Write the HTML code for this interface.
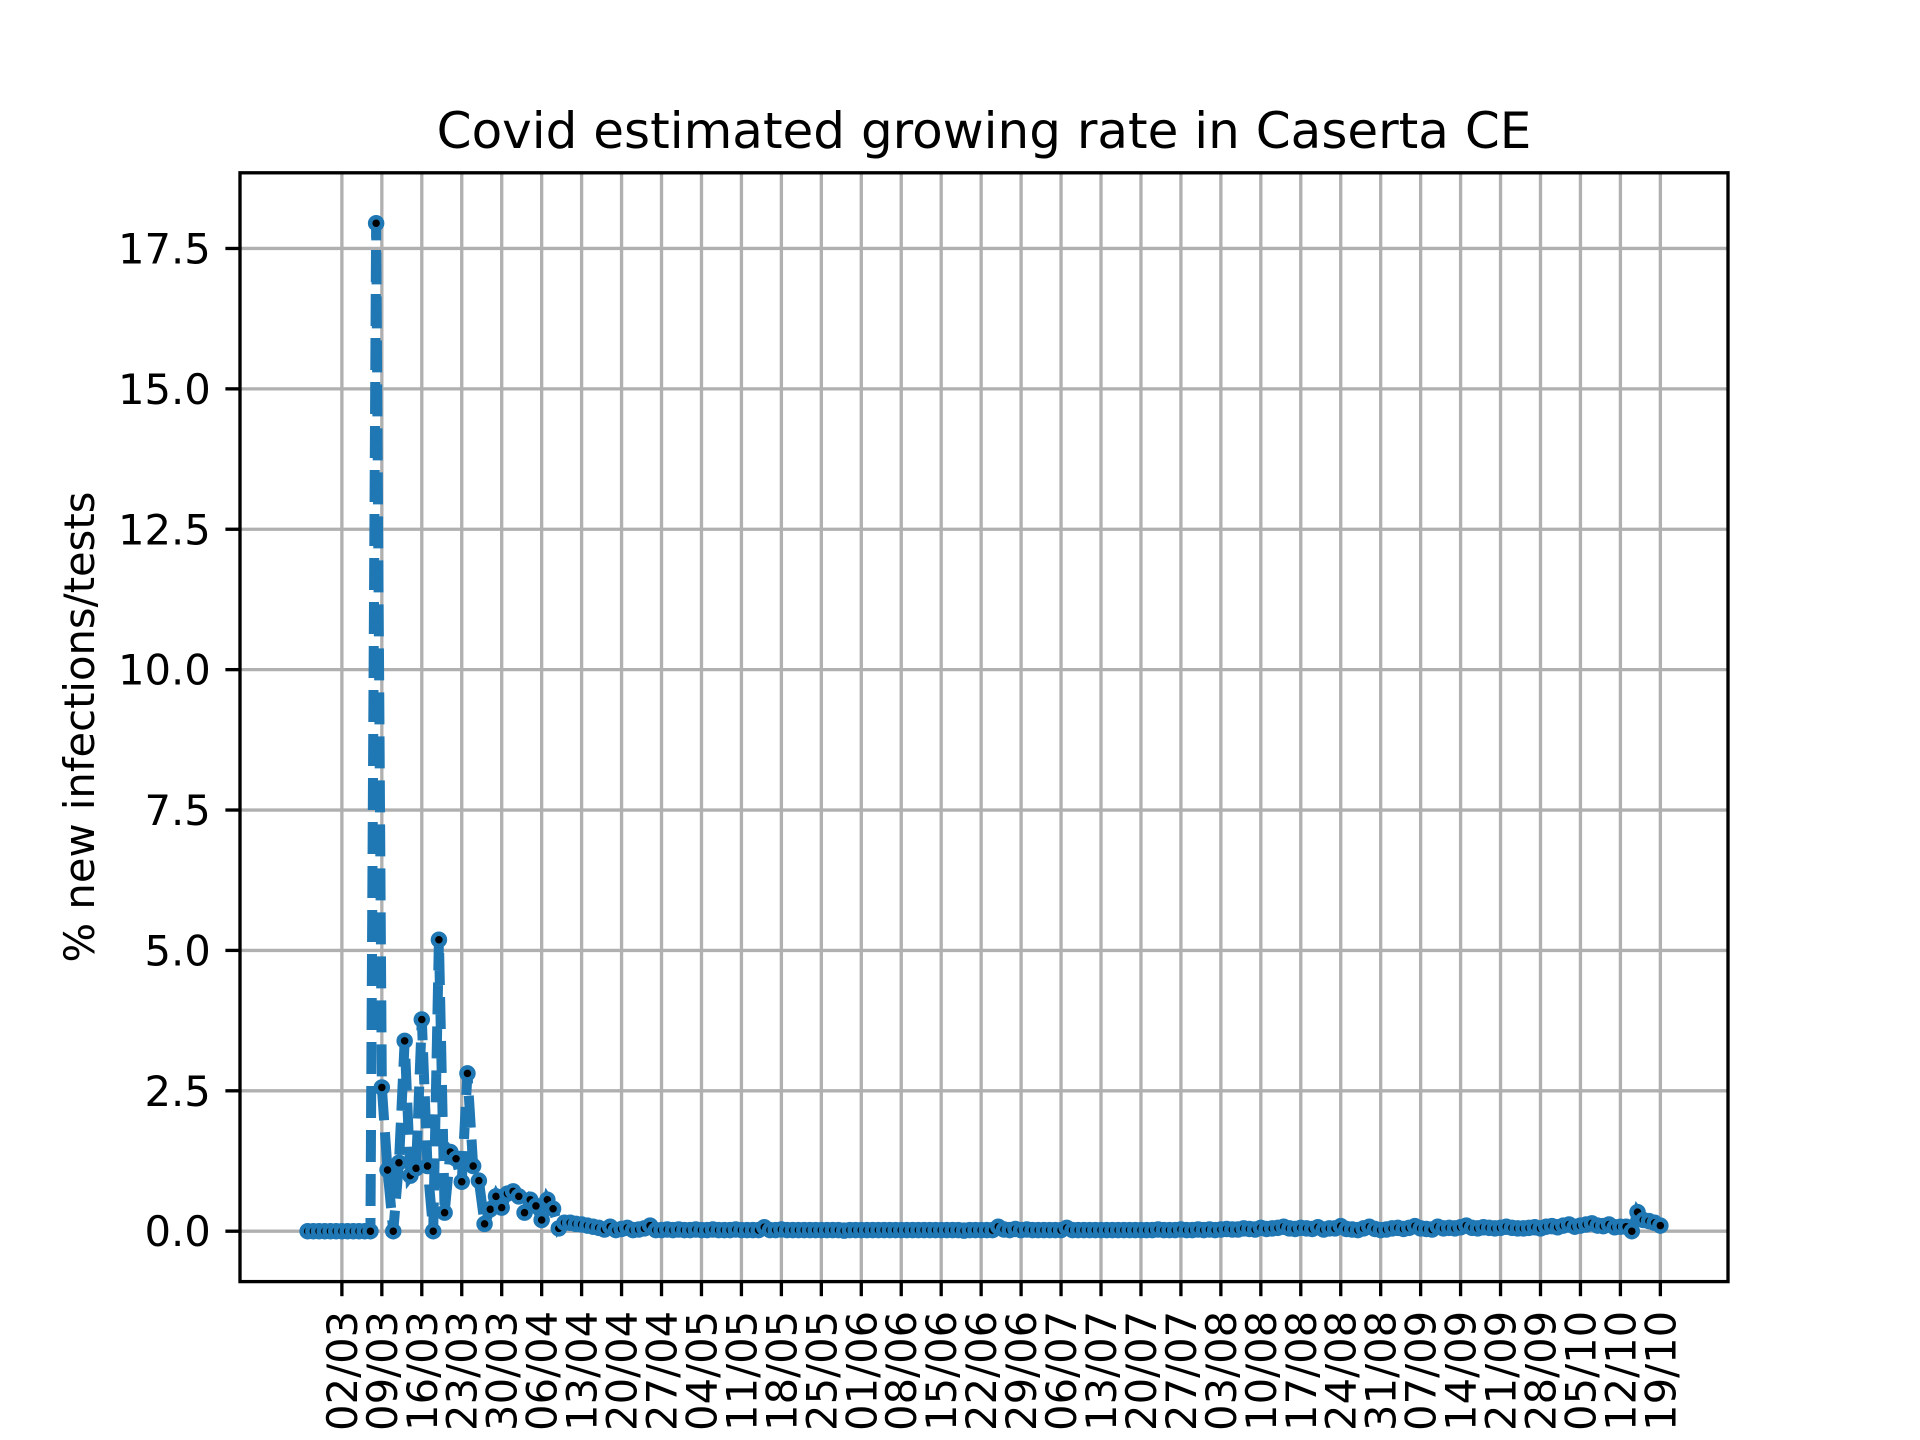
<!DOCTYPE html>
<html><head><meta charset="utf-8">
<style>
html,body{margin:0;padding:0;background:#fff;}
svg{display:block;font-family:"DejaVu Sans","Liberation Sans",sans-serif;}
</style></head>
<body>
<svg id="chart" width="1920" height="1440" viewBox="0 0 1920 1440" xmlns="http://www.w3.org/2000/svg">
<rect width="1920" height="1440" fill="#fff"/>
<text x="984" y="148" font-size="50" text-anchor="middle">Covid estimated growing rate in Caserta CE</text>
<text transform="translate(94,727) rotate(-90)" font-size="41.7" text-anchor="middle">% new infections/tests</text>
<g id="grid"></g>
<g id="ticks"></g>
<g id="series"></g>
<rect x="240" y="172.8" width="1488" height="1108.8" fill="none" stroke="#000" stroke-width="3.33"/>
</svg>
<script>
const values = [
0,0,0,0,0,0,0,0,0,0,
0,0,17.95,2.56,1.09,0,1.22,3.39,0.99,1.12,
3.77,1.16,0,5.19,0.33,1.41,1.29,0.88,2.81,1.16,
0.9,0.13,0.39,0.62,0.42,0.67,0.71,0.62,0.33,0.56,
0.45,0.2,0.56,0.4,0.05,0.15,0.15,0.13,0.12,0.1,
0.08,0.06,0.03,0.08,0.02,0.04,0.06,0.02,0.03,0.05,
0.1,0.02,0.02,0.03,0.02,0.03,0.02,0.02,0.03,0.02,
0.02,0.03,0.02,0.02,0.02,0.03,0.02,0.02,0.02,0.02,
0.07,0.02,0.02,0.03,0.02,0.02,0.02,0.02,0.02,0.02,
0.02,0.02,0.02,0.02,0.01,0.02,0.02,0.02,0.02,0.02,
0.02,0.02,0.02,0.02,0.02,0.02,0.02,0.02,0.02,0.02,
0.02,0.02,0.02,0.02,0.02,0.01,0.02,0.02,0.02,0.02,
0.02,0.08,0.03,0.02,0.04,0.02,0.03,0.02,0.02,0.02,
0.02,0.02,0.02,0.06,0.02,0.02,0.02,0.02,0.02,0.02,
0.02,0.02,0.02,0.02,0.02,0.02,0.02,0.02,0.02,0.03,
0.02,0.02,0.02,0.03,0.02,0.02,0.03,0.02,0.03,0.02,
0.03,0.04,0.03,0.03,0.05,0.04,0.03,0.06,0.04,0.05,
0.06,0.08,0.05,0.04,0.06,0.05,0.04,0.07,0.03,0.05,
0.05,0.09,0.04,0.03,0.02,0.05,0.08,0.04,0.02,0.03,
0.05,0.06,0.04,0.06,0.09,0.05,0.04,0.03,0.08,0.05,
0.06,0.05,0.07,0.1,0.06,0.05,0.07,0.06,0.05,0.06,
0.08,0.06,0.05,0.05,0.06,0.07,0.05,0.08,0.09,0.07,
0.1,0.12,0.08,0.1,0.12,0.14,0.1,0.09,0.12,0.07,
0.08,0.08,0,0.34,0.2,0.18,0.15,0.1
];
const tickLabels = ["02/03","09/03","16/03","23/03","30/03","06/04","13/04","20/04","27/04","04/05","11/05","18/05","25/05","01/06","08/06","15/06","22/06","29/06","06/07","13/07","20/07","27/07","03/08","10/08","17/08","24/08","31/08","07/09","14/09","21/09","28/09","05/10","12/10","19/10"];
const tickDays = [6,13,20,27,34,41,48,55,62,69,76,83,90,97,104,111,118,125,132,139,146,153,160,167,174,181,188,195,202,209,216,223,230,237];
const yTicks = [0,2.5,5,7.5,10,12.5,15,17.5];
const yTickLabels = ["0.0","2.5","5.0","7.5","10.0","12.5","15.0","17.5"];

const NS="http://www.w3.org/2000/svg";
const L=240,R=1728,T=172.8,B=1281.6;
const n=values.length;
const xmin=-(n-1)*0.05, xmax=(n-1)*1.05;
const vmax=Math.max(...values), vmin=Math.min(...values);
const ymin=vmin-(vmax-vmin)*0.05, ymax=vmax+(vmax-vmin)*0.05;
function xs(d){return L+(d-xmin)/(xmax-xmin)*(R-L);}
function ys(v){return B-(v-ymin)/(ymax-ymin)*(B-T);}
function mk(tag,attrs,parent){const e=document.createElementNS(NS,tag);for(const k in attrs)e.setAttribute(k,attrs[k]);parent.appendChild(e);return e;}
const grid=document.getElementById('grid'),ticks=document.getElementById('ticks'),series=document.getElementById('series');

tickDays.forEach((d,i)=>{
  const x=xs(d);
  const g=mk('line',{x1:x,x2:x,y1:T,y2:B,stroke:'#b0b0b0','stroke-width':3.33},grid);
  
  
  const t=mk('line',{x1:x,x2:x,y1:B,y2:B+14.6,stroke:'#000','stroke-width':3.33},ticks);
  
  
  const lb=mk('text',{transform:`translate(${x+15},${B+29.2}) rotate(-90)`,'font-size':41.7,'text-anchor':'end'},ticks);
  lb.textContent=tickLabels[i];
  
  
});
yTicks.forEach((v,i)=>{
  const y=ys(v);
  const g=mk('line',{x1:L,x2:R,y1:y,y2:y,stroke:'#b0b0b0','stroke-width':3.33},grid);
  
  
  const t=mk('line',{x1:L-14.6,x2:L,y1:y,y2:y,stroke:'#000','stroke-width':3.33},ticks);
  
  
  const lb=mk('text',{x:L-29.2,y:y+15,'font-size':41.7,'text-anchor':'end'},ticks);
  lb.textContent=yTickLabels[i];
  
  
});
const pts=values.map((v,i)=>xs(i).toFixed(2)+','+ys(v).toFixed(2)).join(' ');
const line=mk('polyline',{points:pts,fill:'none',stroke:'#1f77b4','stroke-width':10,'stroke-dasharray':'32 12','stroke-linejoin':'miter'},series);


values.forEach((v,i)=>{
  const c=mk('circle',{cx:xs(i),cy:ys(v),r:6,fill:'#000',stroke:'#1f77b4','stroke-width':4.5},series);
  
  
});
</script>
</body></html>
